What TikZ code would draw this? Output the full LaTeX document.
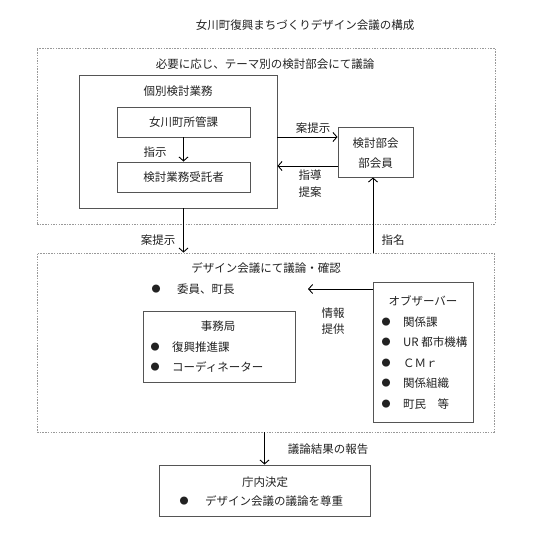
\documentclass[tikz,border=0pt]{standalone}
\usepackage{fontspec}
\setmainfont{Noto Sans CJK JP}
\usetikzlibrary{arrows.meta}
\definecolor{boxline}{HTML}{555555}
\definecolor{dashline}{HTML}{999999}
\definecolor{txt}{HTML}{222222}
\tikzset{
  every node/.style={font=\fontsize{11.5}{13}\selectfont, text=txt, inner sep=0pt},
  box/.style={draw=boxline, line width=0.9pt},
  dbox/.style={draw=dashline, line width=0.8pt, dash pattern=on 1.5pt off 1.2pt},
  arr/.style={draw=black, line width=0.9pt, -{Straight Barb[length=4pt,width=9pt,line width=0.9pt]}},
  bul/.style={font=\fontsize{9}{10}\selectfont},
  lbl/.style={anchor=west}
}
\begin{document}
\begin{tikzpicture}[x=1pt,y=-1pt]
\useasboundingbox (0,0) rectangle (539,540);
% title
\node (title) at (305,25) {女川町復興まちづくりデザイン会議の構成};
% top dashed region
\node[dbox, minimum width=458pt, minimum height=176pt] (top) at (266,136) {};
\node (toplabel) at (265,64) {必要に応じ、テーマ別の検討部会にて議論};
\node[box, minimum width=198pt, minimum height=133pt] (kobetsu) at (178,141.5) {};
\node (kobetsulabel) at (178,91) {個別検討業務};
\node[box, minimum width=133pt, minimum height=30pt] (shokan) at (183.5,122) {女川町所管課};
\node[box, minimum width=133pt, minimum height=30pt] (jutaku) at (183.5,177) {検討業務受託者};
\node (shiji) at (155,152) {指示};
\node[box, minimum width=75pt, minimum height=50pt] (bukai) at (375.5,152) {};
\node (bukai1) at (375.5,143) {検討部会};
\node (bukai2) at (375.5,163) {部会員};
\node (anteiji1) at (313,128) {案提示};
\node (shido) at (310,175) {指導};
\node (teian) at (310,192) {提案};
% lower dashed region
\node[dbox, minimum width=457pt, minimum height=179pt] (design) at (265.5,342.5) {};
\node (designlabel) at (266,268) {デザイン会議にて議論・確認};
\node[bul] (b0) at (156,289) {●};
\node[lbl] (iin) at (177,289) {委員、町長};
\node[box, minimum width=152pt, minimum height=71pt] (jimu) at (219,346.5) {};
\node (jimulabel) at (218,326) {事務局};
\node[bul] (b1) at (155,347) {●};
\node[lbl] (fukko) at (172,347) {復興推進課};
\node[bul] (b2) at (155,367) {●};
\node[lbl] (coord) at (172,367) {コーディネーター};
\node[box, minimum width=100pt, minimum height=140pt] (obs) at (423,352) {};
\node (obslabel) at (423,301) {オブザーバー};
\node[bul] (o1) at (386,322) {●};
\node[lbl] (kankei) at (403,322) {関係課};
\node[bul] (o2) at (386,342) {●};
\node[lbl] (ur) at (403,342) {UR 都市機構};
\node[bul] (o3) at (386,363) {●};
\node[lbl] (cmr) at (403,363) {ＣＭｒ};
\node[bul] (o4) at (386,383) {●};
\node[lbl] (soshiki) at (403,383) {関係組織};
\node[bul] (o5) at (386,404) {●};
\node[lbl] (chomin) at (403,404) {町民　等};
\node (joho) at (333,313) {情報};
\node (teikyo) at (333,329) {提供};
\coordinate (infoend) at (308,289);
\node (anteiji2) at (158,240) {案提示};
\node (shimei) at (393,240) {指名};
% bottom
\node[box, minimum width=211pt, minimum height=51pt] (kanai) at (264.5,490.5) {};
\node (kanailabel) at (265,482) {庁内決定};
\node[bul] (b3) at (184,501) {●};
\node[lbl] (sonchou) at (205,501) {デザイン会議の議論を尊重};
\node (hokoku) at (328,449) {議論結果の報告};
% connectors
\draw[arr] (shokan.south) -- (jutaku.north);
\draw[arr] ([yshift=15pt]kobetsu.east |- bukai.west) -- ([yshift=15pt]bukai.west);
\draw[arr] ([yshift=-14pt]bukai.west) -- ([yshift=-14pt]kobetsu.east |- bukai.west);
\draw[arr] (shokan.south |- kobetsu.south) -- (shokan.south |- design.north);
\draw[arr] ([xshift=-2.5pt]bukai.south |- design.north) -- ([xshift=-2.5pt]bukai.south);
\draw[arr] (obs.west |- infoend) -- (infoend);
\draw[arr] (kanai.north |- design.south) -- (kanai.north);
\end{tikzpicture}
\end{document}
